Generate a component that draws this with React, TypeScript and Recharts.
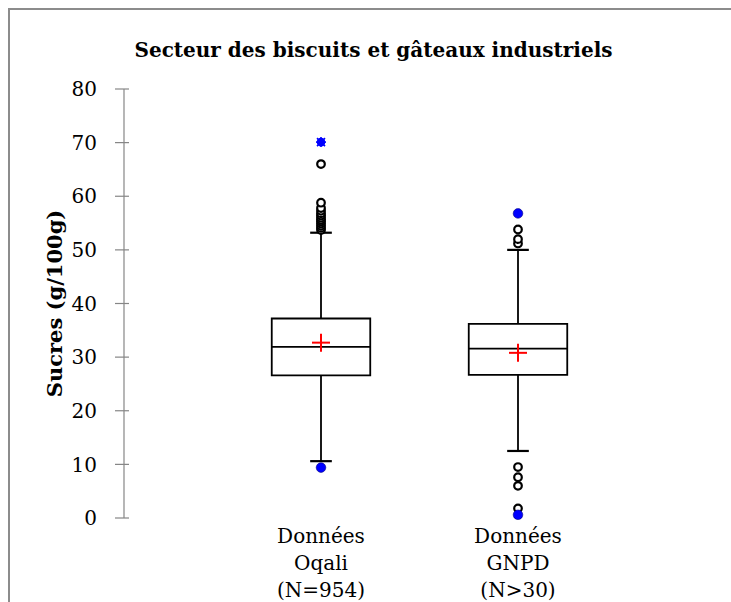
import React from "react"
import { ComposedChart, XAxis, YAxis, Scatter, ReferenceArea, ReferenceLine, Label } from "recharts"

const TITLE = "Secteur des biscuits et gâteaux industriels"
const Y_LABEL = "Sucres (g/100g)"

// one entry per box, in axis order
const categories = [
  ["Données", "Oqali", "(N=954)"],
  ["Données", "GNPD", "(N>30)"],
]
const positions = [1, 2]
const q1 = [26.6, 26.7]
const median = [31.9, 31.6]
const q3 = [37.2, 36.2]
const mean = [32.7, 30.8]
const whiskerLow = [10.6, 12.5]
const whiskerHigh = [53.2, 50.0]
const minimum = [9.4, 0.6]
const maximum = [70.1, 56.8]
const outliersOqali = [53.7, 54.1, 54.5, 54.9, 55.3, 55.6, 56.0, 56.4, 56.8, 57.3, 57.8, 58.8, 66.0]
const outliersGnpd = [51.2, 52.0, 53.8, 9.5, 7.6, 6.0, 1.8]
const yTicks = [0, 10, 20, 30, 40, 50, 60, 70, 80]

const FONT = "'DejaVu Serif', serif"
const AXIS = "#868686"
const BOX_HALF = 0.25
const CAP_HALF = 0.055

const outlierPoints = [
  ...outliersOqali.map((y) => ({ x: positions[0], y })),
  ...outliersGnpd.map((y) => ({ x: positions[1], y })),
]
const meanPoints = positions.map((x, i) => ({ x, y: mean[i] }))
const minPoints = positions.map((x, i) => ({ x, y: minimum[i] }))
const maxPoints = positions.map((x, i) => ({ x, y: maximum[i], star: i === 0 }))

const YTick = ({ x, y, payload }: any) => (
  <g>
    <line x1={x - 7} x2={x + 7} y1={y} y2={y} stroke={AXIS} strokeWidth={1.2} />
    <text x={x - 25} y={y} dy="0.36em" textAnchor="end" fontFamily={FONT} fontSize={20} fill="#000">
      {payload.value}
    </text>
  </g>
)

const XTick = ({ x, y, payload }: any) => {
  const idx = positions.indexOf(payload.value)
  if (idx < 0) return null
  return (
    <text x={x} y={y} textAnchor="middle" fontFamily={FONT} fontSize={20} fill="#000">
      {categories[idx].map((line, i) => (
        <tspan key={i} x={x} dy={i === 0 ? 23 : 27}>
          {line}
        </tspan>
      ))}
    </text>
  )
}

const YLabel = ({ viewBox }: any) => {
  if (!viewBox) return null
  const cx = viewBox.x + 44
  const cy = viewBox.y + viewBox.height / 2
  return (
    <text
      x={cx}
      y={cy}
      transform={`rotate(-90 ${cx} ${cy})`}
      textAnchor="middle"
      dominantBaseline="central"
      fontFamily={FONT}
      fontSize={21}
      fontWeight="bold"
      fill="#000"
    >
      {Y_LABEL}
    </text>
  )
}

const Circle = ({ cx, cy }: any) => <circle cx={cx} cy={cy} r={3.8} fill="#fff" stroke="#000" strokeWidth={2.2} />

const BlueDot = ({ cx, cy, payload }: any) => {
  if (payload && payload.star) {
    return (
      <g stroke="#0000ff" strokeWidth={1.6}>
        <circle cx={cx} cy={cy} r={3.5} fill="#0000ff" />
        <line x1={cx - 5} x2={cx + 5} y1={cy} y2={cy} />
        <line x1={cx} x2={cx} y1={cy - 5} y2={cy + 5} />
        <line x1={cx - 4} x2={cx + 4} y1={cy - 4} y2={cy + 4} />
        <line x1={cx - 4} x2={cx + 4} y1={cy + 4} y2={cy - 4} />
      </g>
    )
  }
  return <circle cx={cx} cy={cy} r={4.8} fill="#0000ff" stroke="#000080" strokeWidth={0.6} />
}

const Cross = ({ cx, cy }: any) => (
  <g stroke="#ff0000" strokeWidth={2}>
    <line x1={cx - 9} x2={cx + 9} y1={cy} y2={cy} />
    <line x1={cx} x2={cx} y1={cy - 9} y2={cy + 9} />
  </g>
)

export default function App() {
  return (
    <div
      style={{
        position: "fixed",
        left: 8,
        top: 8,
        width: 760,
        height: 640,
        borderTop: "2px solid #8c8c8c",
        borderLeft: "2px solid #8c8c8c",
        background: "#fff",
      }}
    >
      <div
        style={{
          position: "absolute",
          left: 0,
          top: 28,
          width: 727,
          textAlign: "center",
          fontFamily: FONT,
          fontWeight: "bold",
          fontSize: 20,
          color: "#000",
        }}
      >
        {TITLE}
      </div>
      <ComposedChart width={740} height={610} margin={{ top: 79, right: 35, bottom: 0, left: 0 }}>
        <XAxis
          type="number"
          dataKey="x"
          domain={[0, 3]}
          ticks={positions}
          interval={0}
          axisLine={false}
          tickLine={false}
          tickSize={0}
          height={102}
          tick={<XTick />}
        />
        <YAxis
          type="number"
          dataKey="y"
          domain={[0, 80]}
          ticks={yTicks}
          interval={0}
          width={114}
          axisLine={{ stroke: AXIS, strokeWidth: 1.2 }}
          tickLine={false}
          tickSize={0}
          tick={<YTick />}
        >
          <Label content={<YLabel />} />
        </YAxis>
        {positions.map((p, i) => (
          <ReferenceArea
            key={`box-${i}`}
            x1={p - BOX_HALF}
            x2={p + BOX_HALF}
            y1={q1[i]}
            y2={q3[i]}
            fill="none"
            stroke="#000"
            strokeWidth={1.8}
          />
        ))}
        {positions.map((p, i) => (
          <ReferenceLine
            key={`med-${i}`}
            segment={[{ x: p - BOX_HALF, y: median[i] }, { x: p + BOX_HALF, y: median[i] }]}
            stroke="#000"
            strokeWidth={1.8}
          />
        ))}
        {positions.map((p, i) => (
          <ReferenceLine
            key={`wu-${i}`}
            segment={[{ x: p, y: q3[i] }, { x: p, y: whiskerHigh[i] }]}
            stroke="#000"
            strokeWidth={1.8}
          />
        ))}
        {positions.map((p, i) => (
          <ReferenceLine
            key={`wl-${i}`}
            segment={[{ x: p, y: q1[i] }, { x: p, y: whiskerLow[i] }]}
            stroke="#000"
            strokeWidth={1.8}
          />
        ))}
        {positions.map((p, i) => (
          <ReferenceLine
            key={`cu-${i}`}
            segment={[{ x: p - CAP_HALF, y: whiskerHigh[i] }, { x: p + CAP_HALF, y: whiskerHigh[i] }]}
            stroke="#000"
            strokeWidth={2.2}
          />
        ))}
        {positions.map((p, i) => (
          <ReferenceLine
            key={`cl-${i}`}
            segment={[{ x: p - CAP_HALF, y: whiskerLow[i] }, { x: p + CAP_HALF, y: whiskerLow[i] }]}
            stroke="#000"
            strokeWidth={2.2}
          />
        ))}
        <Scatter data={outlierPoints} dataKey="y" shape={<Circle />} isAnimationActive={false} />
        <Scatter data={minPoints} dataKey="y" shape={<BlueDot />} isAnimationActive={false} />
        <Scatter data={maxPoints} dataKey="y" shape={<BlueDot />} isAnimationActive={false} />
        <Scatter data={meanPoints} dataKey="y" shape={<Cross />} isAnimationActive={false} />
      </ComposedChart>
    </div>
  )
}
